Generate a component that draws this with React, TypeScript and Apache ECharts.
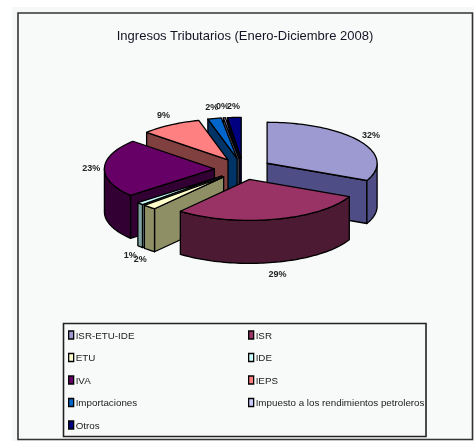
import React, { useEffect, useRef } from "react";
import * as echarts from "echarts";

const titleText = "Ingresos Tributarios (Enero-Diciembre 2008)";
const categories = ["ISR-ETU-IDE", "ISR", "ETU", "IDE", "IVA", "IEPS", "Importaciones", "Impuesto a los rendimientos petroleros", "Otros"];
const values = [32, 29, 2, 1, 23, 9, 2, 0.3, 2];
const topColors = ["#9c9ad0", "#993366", "#ffffcc", "#ccffff", "#660066", "#ff8080", "#0066cc", "#ccccff", "#000080"];
const sideColors = ["#4e4d85", "#4d1a33", "#8f8f66", "#7fa3a3", "#330033", "#804040", "#003366", "#666680", "#000040"];
const legendLeft = ["ISR-ETU-IDE", "ETU", "IVA", "Importaciones", "Otros"];
const legendRight = ["ISR", "IDE", "IEPS", "Impuesto a los rendimientos petroleros"];

const CX = 243, CY = 169, RX = 110, RY = 41, DEPTH = 43, EXPLODE = 0.26;
const total = values.reduce((a, b) => a + b, 0);

const renderSlice = (index: number) => () => {
  const before = values.slice(0, index).reduce((a, b) => a + b, 0);
  const a0 = (before / total) * Math.PI * 2;
  const a1 = ((before + values[index]) / total) * Math.PI * 2;
  const mid = (a0 + a1) / 2;
  const ax = CX + Math.sin(mid) * RX * EXPLODE;
  const ay = CY - Math.cos(mid) * RY * EXPLODE;
  const n = Math.max(2, Math.ceil((a1 - a0) / 0.03));
  const arc: number[][] = [];
  for (let i = 0; i <= n; i++) {
    const t = a0 + ((a1 - a0) * i) / n;
    arc.push([ax + Math.sin(t) * RX, ay - Math.cos(t) * RY]);
  }
  const lineStyle = { stroke: "#000", lineWidth: 1.3, lineJoin: "round" };
  const wall = (pts: number[][]) => ({
    type: "polygon",
    shape: { points: [...pts, ...pts.slice().reverse().map((p) => [p[0], p[1] + DEPTH])] },
    style: { fill: sideColors[index], ...lineStyle },
  });
  const children: any[] = [];
  const apex = [ax, ay];
  if (arc[0][0] < ax) children.push(wall([apex, arc[0]]));
  if (arc[n][0] > ax) children.push(wall([arc[n], apex]));
  let run: number[][] = [];
  for (let i = 0; i < n; i++) {
    if (arc[i + 1][0] < arc[i][0]) {
      if (!run.length) run.push(arc[i]);
      run.push(arc[i + 1]);
    }
  }
  if (run.length) children.push(wall(run));
  children.push({
    type: "polygon",
    shape: { points: [apex, ...arc] },
    style: { fill: topColors[index], ...lineStyle },
  });
  const lx = CX + Math.sin(mid) * RX * 1.38;
  const ly = CY - Math.cos(mid) * RY * 1.55 + (Math.cos(mid) < -0.1 ? DEPTH : 0);
  children.push({
    type: "text",
    z2: 100,
    style: {
      x: lx,
      y: ly,
      text: Math.round(values[index]) + "%",
      fill: "#222",
      font: "bold 9px 'Liberation Sans'",
      align: "center",
      verticalAlign: "middle",
    },
  });
  return { type: "group", children };
};

// Back-to-front order of the exploded slices
const drawZ = (index: number) => {
  const before = values.slice(0, index).reduce((a, b) => a + b, 0);
  const mid = ((before + values[index] / 2) / total) * Math.PI * 2;
  return Math.round((1 - Math.cos(mid)) * 100) + 1;
};

const legendBase = {
  orient: "vertical" as const,
  icon: "rect",
  itemWidth: 5,
  itemHeight: 8,
  itemGap: 10.5,
  selectedMode: false,
  padding: 0,
  textStyle: { fontFamily: "Liberation Sans", fontSize: 9.8, lineHeight: 12, color: "#222", padding: [0, 0, 0, -3] },
  itemStyle: { borderColor: "#000", borderWidth: 1.3 },
};

export default function App() {
  const ref = useRef<HTMLDivElement>(null);
  useEffect(() => {
    const chart = echarts.init(ref.current!, null, { renderer: "svg" });
    chart.setOption({
      animation: false,
      backgroundColor: "#ffffff",
      title: {
        text: titleText,
        left: 245,
        top: 29,
        textAlign: "center",
        padding: 0,
        textStyle: { fontFamily: "Liberation Sans", fontSize: 13, fontWeight: "normal", color: "#141424" },
      },
      legend: [
        { ...legendBase, left: 68, top: 329, data: legendLeft },
        { ...legendBase, left: 248, top: 329, data: legendRight },
      ],
      graphic: [
        {
          type: "rect",
          z: -11,
          shape: { x: 12, y: 7, width: 470, height: 440 },
          style: { fill: "#f6f8f8" },
        },
        {
          type: "rect",
          z: -10,
          shape: { x: 18, y: 13, width: 454.5, height: 426.5 },
          style: { fill: "#f8f9f9", stroke: "#333", lineWidth: 1.6 },
        },
        {
          type: "rect",
          z: -9,
          shape: { x: 63.5, y: 323.5, width: 362.5, height: 113 },
          style: { fill: "none", stroke: "#222", lineWidth: 1.6 },
        },
      ],
      series: categories.map((name, i) => ({
        type: "custom",
        name,
        coordinateSystem: "none",
        z: drawZ(i),
        data: [values[i]],
        itemStyle: { color: topColors[i] },
        renderItem: renderSlice(i),
      })),
    });
    return () => chart.dispose();
  }, []);
  return <div ref={ref} style={{ position: "fixed", left: 0, top: 0, width: 474, height: 441, filter: "blur(0.4px)" }} />;
}
